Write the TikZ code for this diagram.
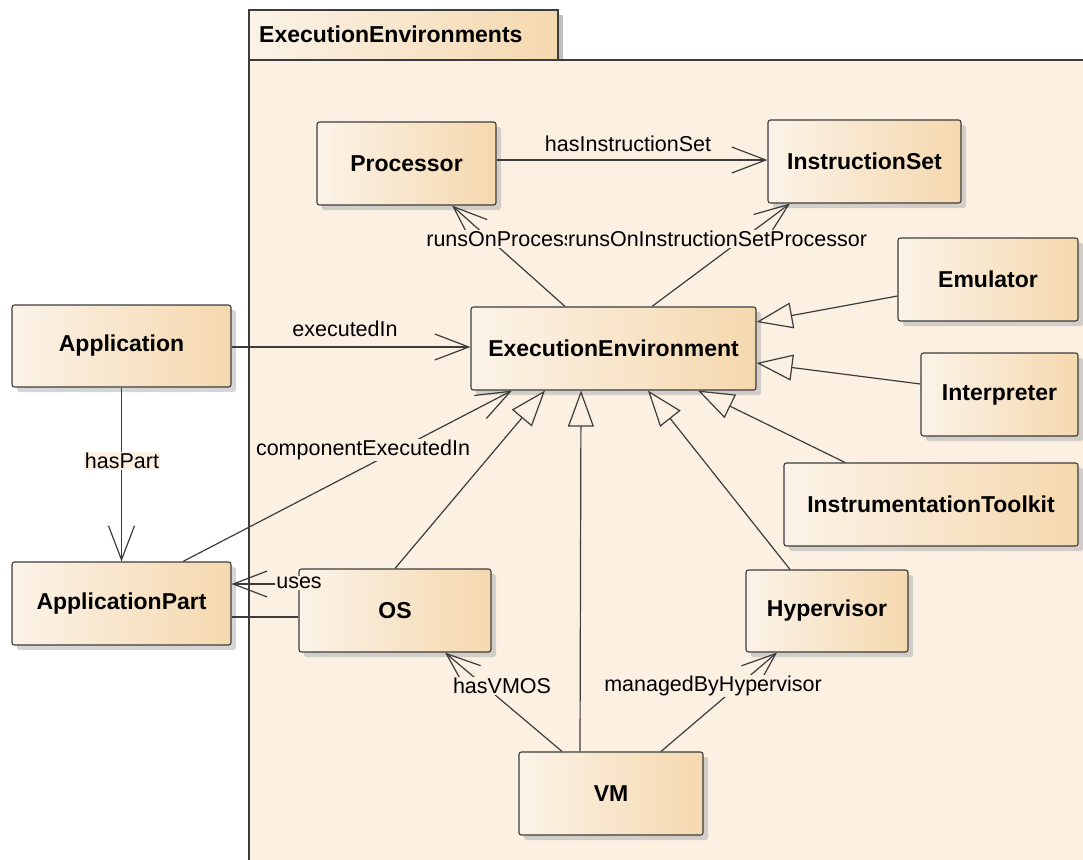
\documentclass[tikz,border=0pt]{standalone}
\usepackage{fontspec}
\setmainfont{Liberation Sans}
\usetikzlibrary{arrows.meta,shadows,calc}
\definecolor{pkgbg}{HTML}{FBF0E2}
\definecolor{nodeL}{HTML}{FBF3E8}
\definecolor{nodeR}{HTML}{F5D8AE}
\definecolor{linec}{HTML}{3C3C3C}
\tikzset{
  cls/.style={draw=linec, line width=1.1pt, rounded corners=2.5pt, left color=nodeL, right color=nodeR,
    drop shadow={shadow xshift=5pt, shadow yshift=-5pt, fill=black!30, opacity=0.55},
    font=\fontsize{23}{26}\bfseries\selectfont, text=black, inner sep=2pt, minimum height=83pt},
  conn/.style={draw=linec, line width=1.2pt},
  assoc/.style={conn, -{Straight Barb[length=34pt, width=26pt, line width=1.2pt]}},
  gen/.style={conn, -{Triangle[length=36pt, width=26pt, fill=pkgbg, line width=1.2pt]}},
  lbl/.style={font=\fontsize{21.5}{24}\selectfont, text=black, inner sep=1pt},
  lblf/.style={lbl, fill=pkgbg}
}
\begin{document}
\begin{tikzpicture}[x=1pt, y=-1pt]
\useasboundingbox (0,0) rectangle (1083,859);
% package
\fill[black!25] (253,15) rectangle (563,60);
\draw[draw=linec, line width=1.1pt, left color=nodeL, right color=nodeR] (249,10) rectangle (558,60);
\node[anchor=west, font=\fontsize{23}{26}\bfseries\selectfont, inner sep=0pt] (pkgtitle) at (259,34) {ExecutionEnvironments};
\draw[draw=linec, line width=1.1pt, fill=pkgbg] (249,900) -- (249,60) -- (1100,60);
\fill[pkgbg] (249.6,60.6) rectangle (1100,900);

% classes
\node[cls, minimum width=179pt] (proc) at (406.5,163.5) {Processor};
\node[cls, minimum width=193pt] (iset) at (864.5,161.5) {InstructionSet};
\node[cls, minimum width=180pt] (emu) at (988,279.5) {Emulator};
\node[cls, minimum width=285pt] (ee) at (613.5,348.5) {ExecutionEnvironment};
\node[cls, minimum width=157pt] (interp) at (999.5,394.5) {Interpreter};
\node[cls, minimum width=294pt] (itk) at (931,504.5) {InstrumentationToolkit};
\node[cls, minimum width=219pt, minimum height=82pt] (app) at (121.5,346) {Application};
\node[cls, minimum width=219pt] (apart) at (121.5,603.5) {ApplicationPart};
\node[cls, minimum width=192pt] (os) at (395,610.5) {OS};
\node[cls, minimum width=162pt, minimum height=82pt] (hyp) at (827,611) {Hypervisor};
\node[cls, minimum width=184pt] (vm) at (611,793.5) {VM};

% associations
\draw[assoc] ([yshift=3.5pt]proc.east) -- ([yshift=3.5pt]proc.east -| iset.west);
\draw[assoc] ([xshift=-48.5pt]ee.north) -- ([xshift=45.5pt]proc.south);
\draw[assoc] ([xshift=38.5pt]ee.north) -- ([xshift=-74.5pt]iset.south);
\draw[assoc] ([yshift=-1pt]app.east) -- ([yshift=-1pt]app.east -| ee.west);
\draw[assoc] (app.south) -- (apart.north);
\draw[assoc] ([xshift=61.5pt]apart.north) -- ([xshift=-101.5pt]ee.south);
\draw[assoc] ([yshift=26.5pt]os.west) -- ([yshift=26.5pt]os.west -| apart.east);
\draw[conn] ([yshift=-6.5pt]os.west) -- ([yshift=-6.5pt]os.west -| apart.east);
\draw[assoc] ([xshift=-49pt]vm.north) -- ([xshift=50pt]os.south);
\draw[assoc] ([xshift=50pt]vm.north) -- ([xshift=-50pt]hyp.south);

% generalizations
\draw[gen] ([yshift=-16.5pt]emu.west) -- ([yshift=26.5pt]ee.east);
\draw[gen] ([yshift=10.5pt]interp.west) -- ([yshift=-14.5pt]ee.east);
\draw[gen] ([xshift=-86pt]itk.north) -- ([xshift=84.5pt]ee.south);
\draw[gen] ([xshift=-37pt]hyp.north) -- ([xshift=34.5pt]ee.south);
\draw[gen] ([xshift=-31pt]vm.north) -- ([xshift=-32.5pt]ee.south);
\draw[gen] (os.north) -- ([xshift=-68.5pt]ee.south);

% labels
\node[lbl] (l1) at (628,144) {hasInstructionSet};
\node[lblf] (l2) at (510,239) {runsOnProcessor};
\node[lblf, anchor=west] (l3) at (567,239) {runsOnInstructionSetProcessor};
\node[lbl] (l4) at (345,329) {executedIn};
\node[lblf] (l5) at (122,461) {hasPart};
\node[lblf] (l6) at (363,450) {componentExecutedIn};
\node[lblf] (l7) at (299,583) {uses};
\node[lblf] (l8) at (502,686) {hasVMOS};
\node[lblf] (l9) at (713,686) {managedByHypervisor};
\end{tikzpicture}
\end{document}
